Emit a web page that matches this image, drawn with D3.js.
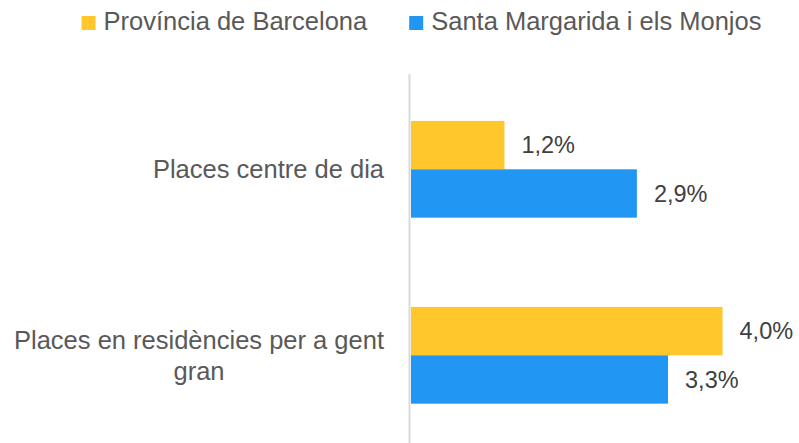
<!DOCTYPE html>
<html>
<head>
<meta charset="utf-8">
<script src="https://cdn.jsdelivr.net/npm/d3@7"></script>
<style>
  html, body { margin: 0; padding: 0; background: #ffffff; }
  svg { display: block; }
</style>
</head>
<body>
<svg id="chart" width="799" height="443"></svg>
<script>
// Categories (top to bottom) and the two series, as shares (0.012 = 1,2%)
const categories = ["Places centre de dia", "Places en residències per a gent gran"];
const seriesNames = ["Província de Barcelona", "Santa Margarida i els Monjos"];
const provinciaValues = [0.012, 0.040];
const santaMargaridaValues = [0.029, 0.033];
const seriesColors = ["#FFC72C", "#2196F3"];

const seriesValues = [provinciaValues, santaMargaridaValues];
const fmt = v => d3.format(".1f")(v * 100).replace(".", ",") + "%";

const svg = d3.select("#chart");
const W = 799, H = 443;
const font = "'Liberation Sans', Arial, sans-serif";

const plot = { left: 411, right: 761.5, top: 76.3, bottom: 448.3 };

const x = d3.scaleLinear().domain([0, 0.045]).range([plot.left, plot.right]);
const y = d3.scaleBand().domain(categories)
  .range([plot.top, plot.bottom])
  .paddingInner(0.48).paddingOuter(0.24);
const ySeries = d3.scaleBand().domain(seriesNames).range([0, y.bandwidth()]);

// Vertical category axis line
svg.append("line")
  .attr("x1", plot.left - 1.5).attr("x2", plot.left - 1.5)
  .attr("y1", 74).attr("y2", H)
  .attr("stroke", "#d9d9d9").attr("stroke-width", 2);

// Bars and value labels
const groups = svg.selectAll("g.cat")
  .data(categories)
  .join("g")
  .attr("class", "cat")
  .attr("transform", c => `translate(0,${y(c)})`);

seriesNames.forEach((s, si) => {
  groups.append("rect")
    .attr("x", x(0))
    .attr("y", ySeries(s))
    .attr("width", (c, ci) => x(seriesValues[si][ci]) - x(0))
    .attr("height", ySeries.bandwidth())
    .attr("fill", seriesColors[si]);

  groups.append("text")
    .attr("x", (c, ci) => x(seriesValues[si][ci]) + 17)
    .attr("y", ySeries(s) + ySeries.bandwidth() / 2)
    .attr("dy", "0.35em")
    .attr("font-family", font)
    .attr("font-size", 23.5)
    .attr("fill", "#404040")
    .text((c, ci) => fmt(seriesValues[si][ci]));
});

// Category labels, wrapped and centred within a right-aligned block
const labelRight = 384, maxLabelWidth = 385, lineHeight = 31;
categories.forEach(c => {
  const t = svg.append("text")
    .attr("font-family", font)
    .attr("font-size", 25.5)
    .attr("fill", "#595959");
  const words = c.split(" ");
  const lines = [];
  let cur = [];
  const probe = t.append("tspan");
  words.forEach(w => {
    const test = cur.concat(w).join(" ");
    probe.text(test);
    if (probe.node().getComputedTextLength() > maxLabelWidth && cur.length) {
      lines.push(cur.join(" "));
      cur = [w];
    } else {
      cur.push(w);
    }
  });
  lines.push(cur.join(" "));
  probe.remove();

  const widths = lines.map(l => { const p = t.append("tspan").text(l); const wd = p.node().getComputedTextLength(); p.remove(); return wd; });
  const blockW = d3.max(widths);
  const cx = labelRight - blockW / 2;
  const cy = y(c) + y.bandwidth() / 2;
  lines.forEach((l, i) => {
    t.append("tspan")
      .attr("x", cx)
      .attr("y", cy + (i - (lines.length - 1) / 2) * lineHeight)
      .attr("dy", "0.35em")
      .attr("text-anchor", "middle")
      .text(l);
  });
});

// Legend
const legend = svg.append("g");
const sw = 14, gapText = 8, gapItem = 42;
let lx = 0;
seriesNames.forEach((s, i) => {
  const g = legend.append("g").attr("transform", `translate(${lx},0)`);
  g.append("rect").attr("x", 0).attr("y", 16).attr("width", sw).attr("height", sw)
    .attr("fill", seriesColors[i]);
  const t = g.append("text")
    .attr("x", sw + gapText).attr("y", 30)
    .attr("font-family", font).attr("font-size", 25.5)
    .attr("fill", "#595959").text(s);
  lx += sw + gapText + t.node().getComputedTextLength() + gapItem;
});
const legendW = lx - gapItem;
legend.attr("transform", `translate(${421.5 - legendW / 2},0)`);
</script>
</body>
</html>
